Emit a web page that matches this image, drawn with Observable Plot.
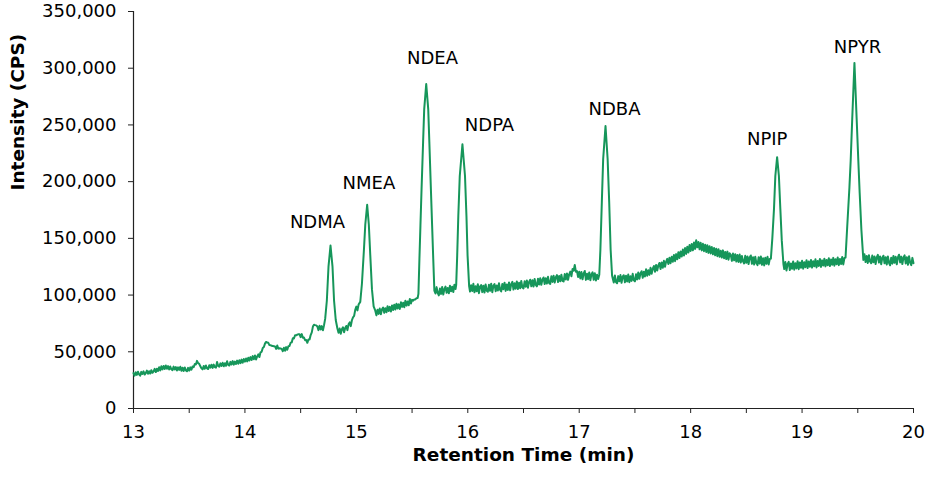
<!DOCTYPE html>
<html><head><meta charset="utf-8">
<script src="https://cdn.jsdelivr.net/npm/d3@7"></script>
<script src="https://cdn.jsdelivr.net/npm/@observablehq/plot@0.6"></script>
<style>body{margin:0;background:#fff} svg{display:block}</style>
</head><body><div id="chart"></div>
<script>
// Chromatogram trace, [retention time (min), intensity (thousand CPS)]
const seg13 = [[13.00,31.2],[13.01,29.0],[13.02,31.9],[13.03,29.6],[13.04,32.4],[13.05,30.1],[13.06,28.9],[13.07,32.3],[13.08,30.5],[13.09,32.8],[13.10,29.9],[13.11,31.2],[13.12,33.4],[13.13,30.6],[13.14,32.9],[13.15,30.8],[13.16,33.8],[13.17,31.5],[13.18,32.7],[13.19,34.9],[13.20,32.1],[13.21,35.0],[13.22,33.0],[13.23,36.4],[13.24,33.6],[13.25,37.2],[13.26,34.5],[13.27,37.5],[13.28,34.8],[13.29,37.9],[13.30,35.0],[13.31,37.4],[13.32,34.4],[13.33,37.0],[13.34,34.6],[13.35,33.8],[13.36,36.9],[13.37,34.4],[13.38,36.5],[13.39,33.5],[13.40,36.3],[13.41,34.0],[13.42,36.8],[13.43,33.2],[13.44,36.0],[13.45,33.1],[13.46,36.2],[13.47,33.6],[13.48,32.8],[13.49,35.8],[13.50,33.4],[13.51,36.3],[13.52,34.2],[13.53,37.1],[13.54,36.4],[13.55,39.2],[13.56,38.8],[13.57,42.0],[13.58,40.0],[13.59,39.4],[13.60,37.2],[13.61,35.4],[13.62,34.5],[13.63,37.5],[13.64,35.0],[13.65,37.9],[13.66,35.4],[13.67,34.8],[13.68,38.2],[13.69,36.0],[13.70,38.6],[13.71,35.8],[13.72,38.7],[13.73,36.5],[13.74,36.0],[13.75,41.0],[13.76,37.5],[13.77,36.8],[13.78,39.8],[13.79,37.5],[13.80,40.3],[13.81,37.2],[13.82,39.9],[13.83,37.7],[13.84,41.6],[13.85,38.4],[13.86,37.9],[13.87,41.1],[13.88,38.8],[13.89,41.8],[13.90,38.7],[13.91,41.3],[13.92,39.2],[13.93,42.2],[13.94,39.5],[13.95,42.5],[13.96,40.0],[13.97,43.1],[13.98,40.4],[13.99,43.6]];
const seg14 = [[14.00,41.3],[14.01,44.1],[14.02,41.5],[14.03,44.8],[14.04,42.3],[14.05,45.3],[14.06,42.8],[14.07,46.2],[14.08,43.4],[14.09,46.7],[14.10,43.2],[14.11,45.9],[14.12,47.7],[14.13,45.4],[14.14,49.5],[14.15,50.0],[14.16,53.3],[14.17,54.2],[14.18,57.2],[14.19,58.7],[14.20,58.2],[14.21,57.9],[14.22,55.9],[14.23,55.8],[14.24,55.3],[14.25,55.1],[14.26,54.9],[14.27,54.7],[14.28,52.5],[14.29,55.5],[14.30,52.8],[14.31,53.1],[14.32,52.9],[14.33,52.6],[14.34,50.5],[14.35,53.5],[14.36,50.9],[14.37,54.1],[14.38,51.8],[14.39,54.9],[14.40,55.1],[14.41,58.0],[14.42,58.3],[14.43,61.9],[14.44,61.7],[14.45,64.6],[14.46,64.5],[14.47,65.1],[14.48,65.4],[14.49,65.5],[14.50,62.9],[14.51,65.6],[14.52,62.4],[14.53,62.5],[14.54,60.2],[14.55,60.4],[14.56,57.9],[14.57,60.8],[14.58,60.8],[14.59,64.7],[14.60,67.1],[14.61,72.2],[14.62,73.9],[14.63,73.5],[14.64,73.3],[14.65,72.3],[14.66,69.1],[14.67,72.9],[14.68,69.7],[14.69,72.6],[14.70,68.9],[14.71,73.5],[14.720,79],[14.735,95],[14.750,125],[14.768,143.7],[14.786,125],[14.800,95],[14.815,78],[14.83,70.5],[14.84,66.8],[14.85,70.5],[14.86,65.9],[14.87,69.8],[14.88,71.6],[14.89,67.2],[14.90,70.9],[14.91,72.8],[14.92,69.1],[14.93,74.2],[14.94,75.9],[14.95,72.6],[14.96,77.8],[14.97,80.4],[14.98,81.6],[14.99,87.0]];
const seg15 = [[15.00,89.8],[15.01,86.5],[15.02,91.6],[15.035,94],[15.050,110],[15.068,140],[15.080,162],[15.097,179.6],[15.112,162],[15.125,135],[15.140,105],[15.155,90],[15.17,86.2],[15.18,82.1],[15.19,87.0],[15.20,83.4],[15.21,88.1],[15.22,83.0],[15.23,87.5],[15.24,89.0],[15.25,84.3],[15.26,88.4],[15.27,84.8],[15.28,90.1],[15.29,85.9],[15.30,89.6],[15.31,85.5],[15.32,90.8],[15.33,86.8],[15.34,91.5],[15.35,87.3],[15.36,92.4],[15.37,88.2],[15.38,91.8],[15.39,87.8],[15.40,93.6],[15.41,89.6],[15.42,93.2],[15.43,89.3],[15.44,95.0],[15.45,90.7],[15.46,94.3],[15.47,91.0],[15.48,96.6],[15.49,92.5],[15.50,95.8],[15.51,95.1],[15.52,96.2],[15.53,96.2],[15.54,97.3],[15.55,97.4],[15.557,101],[15.566,132],[15.575,161],[15.585,193],[15.599,235],[15.609,264],[15.627,286],[15.645,264],[15.655,235],[15.669,193],[15.680,161],[15.690,132],[15.700,104],[15.71,101.4],[15.72,107.0],[15.73,101.9],[15.74,99.7],[15.75,105.7],[15.76,101.0],[15.77,107.1],[15.78,100.5],[15.79,105.2],[15.80,107.5],[15.81,102.0],[15.82,106.3],[15.83,101.6],[15.84,108.2],[15.85,103.4],[15.86,107.4],[15.87,102.7],[15.88,109.2],[15.89,105.3],[15.896,109],[15.905,135],[15.915,170],[15.928,205],[15.952,233],[15.975,205],[15.988,170],[15.998,135]];
const seg16 = [[16.012,108],[16.02,103.1],[16.03,108.7],[16.04,103.5],[16.05,109.9],[16.06,102.4],[16.07,107.8],[16.08,103.3],[16.09,109.6],[16.10,101.7],[16.11,107.5],[16.12,108.9],[16.13,102.6],[16.14,108.3],[16.15,102.2],[16.16,109.4],[16.17,103.8],[16.18,102.9],[16.19,109.1],[16.20,103.7],[16.21,110.0],[16.22,102.5],[16.23,108.1],[16.24,109.7],[16.25,103.4],[16.26,108.5],[16.27,104.0],[16.28,110.5],[16.29,104.6],[16.30,103.3],[16.31,109.8],[16.32,105.2],[16.33,110.9],[16.34,103.7],[16.35,109.3],[16.36,104.5],[16.37,111.1],[16.38,104.2],[16.39,109.6],[16.40,111.7],[16.41,104.9],[16.42,110.4],[16.43,105.6],[16.44,112.0],[16.45,105.3],[16.46,110.8],[16.47,106.0],[16.48,112.5],[16.49,106.7],[16.50,105.9],[16.51,112.1],[16.52,107.3],[16.53,112.9],[16.54,106.5],[16.55,111.6],[16.56,113.5],[16.57,107.8],[16.58,113.0],[16.59,107.5],[16.60,114.2],[16.61,108.9],[16.62,107.7],[16.63,114.4],[16.64,109.3],[16.65,114.8],[16.66,109.0],[16.67,113.6],[16.68,115.5],[16.69,109.7],[16.70,114.9],[16.71,110.1],[16.72,116.1],[16.73,110.5],[16.74,109.8],[16.75,116.5],[16.76,111.6],[16.77,117.1],[16.78,111.1],[16.79,115.7],[16.80,117.6],[16.81,111.5],[16.82,116.8],[16.83,112.1],[16.84,118.0],[16.85,112.6],[16.86,112.0],[16.87,118.5],[16.88,113.7],[16.89,119.1],[16.90,113.4],[16.91,118.3],[16.92,120.7],[16.93,116.5],[16.94,122.9],[16.95,121.5],[16.96,126.5],[16.97,120.6],[16.98,121.1],[16.99,115.9]];
const seg17 = [[17.00,120.5],[17.01,114.7],[17.02,120.3],[17.03,113.9],[17.04,119.1],[17.05,121.2],[17.06,113.4],[17.07,118.8],[17.08,114.0],[17.09,119.9],[17.10,113.1],[17.11,118.4],[17.12,120.0],[17.13,113.5],[17.14,119.3],[17.15,112.9],[17.16,118.0],[17.17,114.1],[17.18,118],[17.19,140],[17.203,182],[17.215,220],[17.236,249],[17.255,220],[17.269,182],[17.282,140],[17.295,117],[17.31,111.0],[17.32,117.3],[17.33,111.5],[17.34,110.4],[17.35,116.7],[17.36,112.1],[17.37,117.6],[17.38,110.8],[17.39,116.2],[17.40,117.5],[17.41,111.3],[17.42,117.0],[17.43,111.9],[17.44,118.1],[17.45,111.4],[17.46,116.6],[17.47,112.5],[17.48,118.7],[17.49,113.0],[17.50,112.1],[17.51,118.4],[17.52,113.8],[17.53,119.9],[17.54,114.4],[17.55,119.1],[17.56,121.0],[17.57,115.3],[17.58,120.5],[17.59,116.4],[17.60,122.7],[17.61,117.1],[17.62,121.9],[17.63,117.8],[17.64,124.0],[17.65,118.7],[17.66,123.3],[17.67,125.6],[17.68,120.5],[17.69,126.5],[17.70,121.7],[17.71,126.1],[17.72,128.3],[17.73,122.9],[17.74,128.8],[17.75,124.1],[17.76,130.2],[17.77,125.0],[17.78,129.5],[17.79,131.9],[17.80,127.3],[17.81,133.0],[17.82,128.1],[17.83,133.7],[17.84,129.4],[17.85,135.3],[17.86,129.9],[17.87,136.1],[17.88,131.6],[17.89,137.8],[17.90,132.7],[17.91,138.5],[17.92,134.0],[17.93,140.1],[17.94,134.9],[17.95,141.4],[17.96,136.3],[17.97,142.7],[17.98,137.5],[17.99,144.1]];
const seg18 = [[18.00,138.9],[18.01,145.0],[18.02,139.5],[18.03,146.3],[18.04,140.7],[18.05,148.4],[18.06,142.1],[18.07,146.7],[18.08,140.3],[18.09,146.1],[18.10,139.4],[18.11,145.2],[18.12,138.7],[18.13,144.4],[18.14,138.0],[18.15,143.9],[18.16,137.2],[18.17,143.1],[18.18,136.7],[18.19,142.3],[18.20,135.9],[18.21,141.5],[18.22,135.1],[18.23,140.8],[18.24,134.3],[18.25,140.4],[18.26,133.7],[18.27,139.1],[18.28,133.1],[18.29,139.4],[18.30,132.5],[18.31,138.0],[18.32,131.8],[18.33,138.3],[18.34,131.2],[18.35,136.9],[18.36,135.4],[18.37,130.1],[18.38,136.6],[18.39,130.7],[18.40,136.0],[18.41,129.5],[18.42,135.3],[18.43,129.2],[18.44,135.7],[18.45,128.7],[18.46,134.4],[18.47,129.8],[18.48,127.9],[18.49,134.6],[18.50,128.5],[18.51,134.1],[18.52,127.4],[18.53,133.2],[18.54,134.9],[18.55,127.6],[18.56,133.4],[18.57,126.9],[18.58,133.8],[18.59,128.2],[18.60,126.4],[18.61,133.3],[18.62,127.8],[18.63,134.1],[18.64,126.7],[18.65,132.4],[18.66,126.1],[18.67,132.9],[18.68,127.5],[18.69,133.7],[18.70,127.0],[18.71,131.8],[18.72,132],[18.733,150],[18.748,176],[18.760,205],[18.776,221.6],[18.792,205],[18.805,176],[18.818,148],[18.833,127],[18.84,122.9],[18.85,129.1],[18.86,121.7],[18.87,127.4],[18.88,129.3],[18.89,122.1],[18.90,127.8],[18.91,123.2],[18.92,129.6],[18.93,122.4],[18.94,128.1],[18.95,123.5],[18.96,129.9],[18.97,122.8],[18.98,128.7],[18.99,124.1]];
const seg19 = [[19.00,130.2],[19.01,123.3],[19.02,129.0],[19.03,124.6],[19.04,130.7],[19.05,123.8],[19.06,129.5],[19.07,124.9],[19.08,131.0],[19.09,124.2],[19.10,129.8],[19.11,125.4],[19.12,131.5],[19.13,124.4],[19.14,130.1],[19.15,125.7],[19.16,131.8],[19.17,124.8],[19.18,130.6],[19.19,126.0],[19.20,132.1],[19.21,125.3],[19.22,130.9],[19.23,126.3],[19.24,132.5],[19.25,125.6],[19.26,131.3],[19.27,126.7],[19.28,132.8],[19.29,125.9],[19.30,131.6],[19.31,127.1],[19.32,133.1],[19.33,126.4],[19.34,131.9],[19.35,127.4],[19.36,133.5],[19.37,127.0],[19.38,132.7],[19.39,133],[19.405,160],[19.425,195],[19.436,218],[19.450,255],[19.470,304.7],[19.490,255],[19.505,218],[19.517,190],[19.532,158],[19.55,131],[19.56,135.9],[19.57,129.1],[19.58,134.4],[19.59,128.3],[19.60,135.2],[19.61,129.6],[19.62,128.1],[19.63,134.8],[19.64,128.9],[19.65,134.1],[19.66,127.4],[19.67,133.2],[19.68,135.5],[19.69,128.7],[19.70,134.0],[19.71,127.2],[19.72,132.9],[19.73,134.7],[19.74,128.0],[19.75,133.4],[19.76,126.9],[19.77,134.1],[19.78,128.5],[19.79,126.3],[19.80,133.0],[19.81,127.7],[19.82,134.5],[19.83,128.4],[19.84,133.7],[19.85,127.1],[19.86,133.3],[19.87,135.6],[19.88,128.8],[19.89,133.9],[19.90,127.3],[19.91,133.1],[19.92,135.0],[19.93,127.9],[19.94,133.4],[19.95,126.7],[19.96,134.2],[19.97,128.6],[19.98,126.4],[19.99,132.8],[20.00,128.1]];

// Peak labels
const peakNames = ["NDMA", "NMEA", "NDEA", "NDPA", "NDBA", "NPIP", "NPYR"];
const labelTimes = [14.651, 15.113, 15.683, 16.195, 17.317, 18.687, 19.497];
const labelIntensities = [164400, 198400, 309000, 249500, 264200, 237300, 318500];

// Axes
const xTicks = [13, 13.5, 14, 14.5, 15, 15.5, 16, 16.5, 17, 17.5, 18, 18.5, 19, 19.5, 20];
const yTicks = [0, 50000, 100000, 150000, 200000, 250000, 300000, 350000];
const xDomain = [13, 20];
const yDomain = [0, 350000];
const xTitle = "Retention Time (min)";
const yTitle = "Intensity (CPS)";

const trace = [...seg13, ...seg14, ...seg15, ...seg16, ...seg17, ...seg18, ...seg19]
  .map(([t, k]) => ({time: t, intensity: k * 1000}));
const labels = peakNames.map((name, i) => ({name, time: labelTimes[i], intensity: labelIntensities[i]}));

const chart = Plot.plot({
  width: 950,
  height: 500,
  marginLeft: 133,
  marginRight: 37,
  marginTop: 11,
  marginBottom: 92,
  style: {fontFamily: "'DejaVu Sans', Verdana, sans-serif", fontSize: "18px", color: "#000", background: "#fff"},
  x: {domain: xDomain},
  y: {domain: yDomain},
  marks: [
    Plot.axisY({ticks: yTicks, tickFormat: d3.format(","), tickSize: 5, tickPadding: 12, label: null, fontSize: 18, stroke: "#222"}),
    Plot.axisX({ticks: xTicks, tickFormat: d => Number.isInteger(d) ? String(d) : "", tickSize: 5, tickPadding: 12, label: null, fontSize: 18, stroke: "#222"}),
    Plot.ruleX([xDomain[0]], {stroke: "#222", strokeWidth: 1.2}),
    Plot.ruleY([yDomain[0]], {stroke: "#222", strokeWidth: 1.2}),
    Plot.line(trace, {x: "time", y: "intensity", stroke: "#16965a", strokeWidth: 2}),
    Plot.text(labels, {x: "time", y: "intensity", text: "name", fontSize: 18, fill: "#000"}),
    Plot.text([xTitle], {frameAnchor: "bottom", dy: 52, fontSize: 18.5, fontWeight: "bold", fill: "#000"}),
    Plot.text([yTitle], {frameAnchor: "left", rotate: -90, dx: -115, dy: -19.5, fontSize: 18.5, fontWeight: "bold", fill: "#000"})
  ]
});
document.getElementById("chart").appendChild(chart);
</script>
</body></html>
